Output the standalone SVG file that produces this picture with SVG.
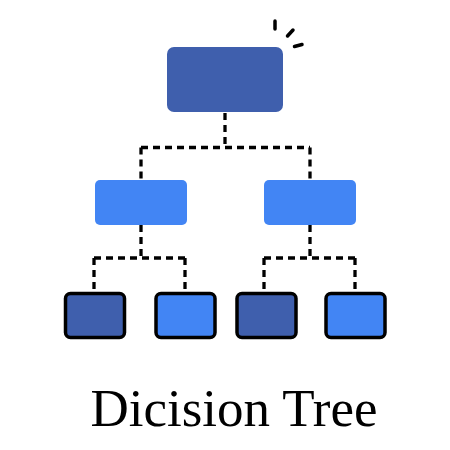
<svg xmlns="http://www.w3.org/2000/svg" width="450" height="450" viewBox="0 0 450 450">
<style>
.dark{fill:#3F5FAD}
.light{fill:#4285F4}
.leaf{stroke:#000;stroke-width:3.5}
.conn{fill:none;stroke:#000;stroke-width:3.3;stroke-dasharray:7 5}
.spark{stroke:#000;stroke-width:3.5;stroke-linecap:round}
.title{font-family:"Liberation Serif","Times New Roman",serif;font-size:53px;fill:#000}
</style>
<rect width="450" height="450" fill="#fff"/>
<g id="connectors">
<path class="conn" d="M225 113 V147.5 M141 147.5 H310 M141 147.5 V180 M310 147.5 V180"/>
<path class="conn" d="M141 225 V258 M94 258 H185 M94 258 V291 M185 258 V291"/>
<path class="conn" d="M310 225 V258 M264 258 H355 M264 258 V291 M355 258 V291"/>
</g>
<g id="sparks">
<line class="spark" x1="275" y1="21" x2="275" y2="29"/>
<line class="spark" x1="287.5" y1="36" x2="293" y2="30"/>
<line class="spark" x1="294.5" y1="46.5" x2="302" y2="44.5"/>
</g>
<g id="root"><rect class="dark" x="167" y="47" width="116" height="65" rx="7"/></g>
<g id="mid-left"><rect class="light" x="95" y="180" width="92" height="45" rx="5"/></g>
<g id="mid-right"><rect class="light" x="264" y="180" width="92" height="45" rx="5"/></g>
<g id="leaf-1"><rect class="dark leaf" x="65.5" y="293.5" width="59" height="44" rx="5"/></g>
<g id="leaf-2"><rect class="light leaf" x="156" y="293.5" width="59" height="44" rx="5"/></g>
<g id="leaf-3"><rect class="dark leaf" x="237" y="293.5" width="59" height="44" rx="5"/></g>
<g id="leaf-4"><rect class="light leaf" x="326" y="293.5" width="59" height="44" rx="5"/></g>
<g id="label"><text class="title" x="234" y="426" text-anchor="middle">Dicision Tree</text></g>
</svg>
